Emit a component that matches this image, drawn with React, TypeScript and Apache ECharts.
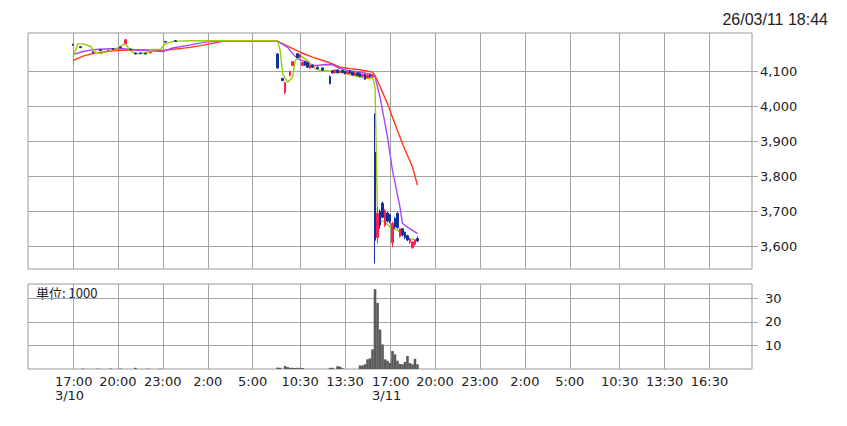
import React, { useEffect, useRef } from 'react';
import * as echarts from 'echarts';

// ---- category slots (10-minute slots along the trading timeline) ----
const SLOT_COUNT = 291;
const tickSlots = [18, 36, 54, 72, 90, 109, 127, 145, 163, 181, 199, 217, 237, 255, 273];
const tickTimes = ['17:00', '20:00', '23:00', '2:00', '5:00', '10:30', '13:30', '17:00', '20:00', '23:00', '2:00', '5:00', '10:30', '13:30', '16:30'];
const tickDates = ['3/10', '', '', '', '', '', '', '3/11', '', '', '', '', '', '', ''];

// ---- price axis / volume axis ticks ----
const priceTicks = [3600, 3700, 3800, 3900, 4000, 4100];
const volumeTicks = [10, 20, 30];

// ---- candles: slot, open, close, low, high ----
const candleSlots = [18, 21, 26, 29, 32, 34, 37, 39, 41, 43, 45, 47, 49, 55, 59,
  100, 102, 103, 105, 106, 108, 109, 110, 111, 112, 113, 114, 116, 118, 121, 122, 123, 124, 125, 126, 127, 128, 129, 130, 131, 132, 133, 134, 135, 136, 137, 138,
  139, 140, 141, 142, 143, 144, 145, 146, 147, 148, 149, 150, 151, 152, 153, 154, 155, 156];
const opens = [4178, 4171, 4156, 4162, 4158, 4165, 4170, 4180, 4164, 4153, 4153, 4152, 4153, 4186, 4188,
  4150, 4080, 4040, 4088, 4117, 4151, 4140, 4117, 4128, 4125, 4110, 4118, 4112, 4110, 4085, 4102, 4096, 4104, 4097, 4103, 4100, 4094, 4102, 4098, 4090, 4096, 4095, 4086, 4092, 4082, 4090, 4085,
  3869, 3625, 3700, 3723, 3660, 3695, 3690, 3610, 3680, 3694, 3628, 3650, 3640, 3630, 3612, 3596, 3605, 3622];
const closes = [4175, 4168, 4153, 4160, 4161, 4163, 4168, 4191, 4162, 4150, 4151, 4150, 4155, 4184, 4186,
  4110, 4074, 4068, 4100, 4128, 4140, 4148, 4126, 4118, 4112, 4118, 4112, 4108, 4104, 4065, 4096, 4104, 4096, 4101, 4097, 4094, 4100, 4095, 4090, 4096, 4088, 4085, 4092, 4078, 4090, 4084, 4090,
  3617, 3694, 3660, 3683, 3703, 3672, 3670, 3665, 3655, 3654, 3650, 3632, 3625, 3618, 3620, 3612, 3618, 3615];
const lows = [4174, 4167, 4152, 4159, 4157, 4162, 4167, 4179, 4161, 4149, 4150, 4149, 4152, 4183, 4185,
  4108, 4072, 4035, 4086, 4115, 4138, 4138, 4115, 4116, 4110, 4108, 4110, 4106, 4102, 4063, 4094, 4094, 4094, 4095, 4095, 4092, 4092, 4093, 4088, 4088, 4086, 4083, 4084, 4076, 4080, 4082, 4083,
  3551, 3608, 3650, 3680, 3655, 3668, 3665, 3598, 3650, 3650, 3625, 3628, 3620, 3615, 3608, 3593, 3602, 3612];
const highs = [4179, 4172, 4157, 4163, 4162, 4166, 4171, 4192, 4165, 4154, 4154, 4153, 4156, 4187, 4189,
  4152, 4082, 4070, 4102, 4130, 4152, 4150, 4128, 4130, 4127, 4120, 4120, 4114, 4112, 4088, 4104, 4106, 4106, 4103, 4105, 4102, 4102, 4104, 4100, 4098, 4098, 4097, 4094, 4094, 4092, 4092, 4092,
  3980, 3712, 3705, 3728, 3706, 3698, 3692, 3670, 3683, 3698, 3652, 3652, 3642, 3633, 3622, 3615, 3620, 3628];

// ---- volume (unit: 1000) ----
const volumeSlots = [22, 28, 33, 37, 43, 48, 53, 100, 101, 103, 104, 105, 106, 107, 108, 109, 110, 121, 122, 124, 125, 126,
  133, 134, 135, 136, 137, 138, 139, 140, 141, 142, 143, 144, 145, 146, 147, 148, 149, 150, 151, 152, 153, 154, 155, 156];
const volumeValues = [0.15, 0.15, 0.2, 0.2, 0.5, 0.15, 0.15, 0.6, 0.5, 1.3, 0.8, 0.5, 0.5, 0.4, 0.5, 0.5, 0.4, 0.5, 0.5, 1.2, 1.0, 0.3,
  1.5, 1.5, 2.0, 4.1, 4.5, 8.3, 33.8, 28, 16.7, 10.4, 4.1, 3.5, 2.6, 7.6, 6.2, 3.5, 2.2, 2.0, 3.0, 5.5, 2.5, 2.0, 4.3, 2.0];

// ---- moving averages: [slot, price] vertices ----
const maShort = [[18, 4141], [20, 4179], [22, 4179], [25, 4172], [27, 4155], [29, 4151], [33, 4160], [35, 4163], [37, 4172], [39, 4179],
  [41, 4160], [43, 4151], [45, 4151], [48, 4155], [50, 4163], [53, 4163], [55, 4179], [58, 4186], [65, 4188], [100, 4188],
  [101, 4160], [102, 4093], [104, 4069], [106, 4084], [107, 4131], [109, 4146], [110, 4141], [112, 4131], [115, 4108], [117, 4103],
  [122, 4101], [125, 4098], [130, 4089], [137, 4079], [138, 4084], [139, 4055], [140, 3684], [141, 3674], [143, 3669], [145, 3655],
  [148, 3646], [150, 3636], [153, 3622], [156, 3617]];
const maMid = [[18, 4148], [22, 4157], [27, 4163], [33, 4165], [38, 4165], [43, 4162], [49, 4159], [54, 4157], [58, 4167], [65, 4176],
  [71, 4184], [78, 4187], [100, 4187], [104, 4169], [106, 4151], [108, 4136], [110, 4131], [112, 4127], [114, 4117], [116, 4117],
  [119, 4120], [122, 4119], [125, 4108], [128, 4103], [133, 4098], [137, 4093], [139, 4084], [141, 4027], [144, 3912], [146, 3817],
  [149, 3712], [150, 3665], [152, 3655], [156, 3636]];
const maLong = [[18, 4131], [22, 4144], [27, 4153], [35, 4160], [43, 4162], [54, 4160], [65, 4169], [73, 4179], [78, 4186], [100, 4186],
  [109, 4155], [114, 4141], [120, 4127], [125, 4112], [129, 4108], [133, 4105], [138, 4098], [139, 4089], [144, 4008], [146, 3969],
  [150, 3893], [154, 3827], [156, 3774]];

const COLOR_UP = '#ff1f4f';
const COLOR_DOWN = '#12309c';

export default function App() {
  const ref = useRef<HTMLDivElement>(null);

  useEffect(() => {
    if (!ref.current) return;
    const chart = echarts.init(ref.current, undefined, { renderer: 'svg' });

    const categories = Array.from({ length: SLOT_COUNT }, (_, i) => 's' + i);
    const tickIndex: Record<number, number> = {};
    tickSlots.forEach((s, k) => { tickIndex[s] = k; });
    const isTick = (i: number) => tickIndex[i] !== undefined;

    const lastSlot = 157;
    const candleData: any[] = Array.from({ length: lastSlot }, () => ['-', '-', '-', '-']);
    candleSlots.forEach((s, k) => { candleData[s] = [opens[k], closes[k], lows[k], highs[k]]; });
    const volumeData: any[] = Array.from({ length: lastSlot }, () => '-');
    volumeSlots.forEach((s, k) => { volumeData[s] = volumeValues[k]; });

    const gridLine = { show: true, lineStyle: { color: '#a4a4a4', width: 1 } };

    const xCommon = {
      type: 'category' as const,
      data: categories,
      boundaryGap: false,
      axisLine: { show: false },
      axisTick: { show: false },
      splitLine: { ...gridLine, interval: (i: number) => isTick(i) },
    };

    chart.setOption({
      animation: false,
      backgroundColor: '#ffffff',
      grid: [
        { left: 28, top: 33, width: 724, height: 236, show: true, borderColor: '#999', borderWidth: 1 },
        { left: 28, top: 284, width: 724, height: 85, show: true, borderColor: '#999', borderWidth: 1 },
      ],
      xAxis: [
        { ...xCommon, gridIndex: 0, axisLabel: { show: false } },
        {
          ...xCommon,
          gridIndex: 1,
          axisLabel: {
            show: true,
            interval: (i: number) => isTick(i),
            margin: 5,
            color: '#222',
            fontSize: 13,
            fontFamily: 'DejaVu Sans',
            lineHeight: 14,
            formatter: (_v: string, i: number) => {
              const k = tickIndex[i];
              if (k === undefined) return '';
              return tickDates[k] ? `{t|${tickTimes[k]}}\n{d|${tickDates[k]}}` : tickTimes[k];
            },
            rich: {
              t: { width: 36, align: 'left', fontSize: 13, fontFamily: 'DejaVu Sans', color: '#222', lineHeight: 14 },
              d: { width: 36, align: 'left', fontSize: 13, fontFamily: 'DejaVu Sans', color: '#222', lineHeight: 14 },
            },
          },
        },
      ],
      yAxis: [
        {
          type: 'value', gridIndex: 0, position: 'right', min: 3535, max: 4210,
          axisLine: { show: false },
          axisTick: { show: true, length: 6, lineStyle: { color: '#a4a4a4' }, customValues: priceTicks },
          axisLabel: {
            customValues: priceTicks, margin: 8, color: '#222', fontSize: 13, fontFamily: 'DejaVu Sans',
            formatter: (v: number) => v.toLocaleString('en-US'),
          },
          splitLine: gridLine,
        },
        {
          type: 'value', gridIndex: 1, position: 'right', min: 0, max: 36,
          axisLine: { show: false },
          axisTick: { show: true, length: 6, lineStyle: { color: '#a4a4a4' }, customValues: volumeTicks },
          axisLabel: { customValues: volumeTicks, margin: 13, color: '#222', fontSize: 13, fontFamily: 'DejaVu Sans' },
          splitLine: gridLine,
        },
      ],
      series: [
        {
          type: 'line', xAxisIndex: 0, yAxisIndex: 0, data: maLong, showSymbol: false, z: 2,
          lineStyle: { color: '#ff3a10', width: 1.4 },
        },
        {
          type: 'line', xAxisIndex: 0, yAxisIndex: 0, data: maMid, showSymbol: false, z: 2,
          lineStyle: { color: '#a846ff', width: 1.4 },
        },
        {
          type: 'line', xAxisIndex: 0, yAxisIndex: 0, data: maShort, showSymbol: false, z: 2,
          lineStyle: { color: '#9ccc00', width: 1.4 },
        },
        {
          type: 'candlestick', xAxisIndex: 0, yAxisIndex: 0, data: candleData, barWidth: 2, z: 3,
          itemStyle: { color: COLOR_UP, color0: COLOR_DOWN, borderColor: COLOR_UP, borderColor0: COLOR_DOWN, borderWidth: 1 },
        },
        {
          type: 'bar', xAxisIndex: 1, yAxisIndex: 1, data: volumeData, barWidth: 2.6,
          itemStyle: { color: '#5a5a5a' },
        },
      ],
      graphic: [
        {
          type: 'text', right: 19, top: 11,
          style: { text: '26/03/11 18:44', font: '16px "Liberation Sans", Arial, sans-serif', fill: '#222' },
        },
        {
          type: 'text', left: 36, top: 286,
          style: { text: '単位: 1000', font: '13px "Noto Sans CJK JP", "DejaVu Sans", sans-serif', fill: '#222' },
        },
      ],
    });

    return () => chart.dispose();
  }, []);

  return <div ref={ref} style={{ width: 847, height: 426, position: 'absolute', left: 0, top: 0 }} />;
}
